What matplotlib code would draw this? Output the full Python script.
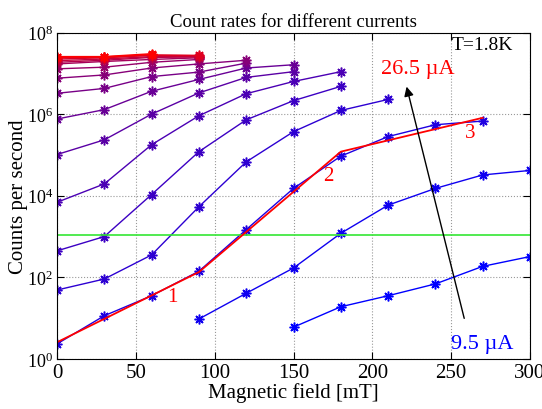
import numpy as np
import matplotlib.pyplot as plt

plt.rcParams['font.family'] = 'Liberation Serif'
plt.rcParams['mathtext.fontset'] = 'stix'

# bias currents in uA, from lowest (blue) to highest (red)
currents = [9.5, 10.5, 11.5, 12.5, 13.5, 14.5, 15.5, 16.5, 17.5,
            18.5, 19.5, 20.5, 21.5, 22.5, 23.5, 24.5, 25.5, 26.5]

# field where each sweep starts (mT), points every 30 mT
start_field = [150, 90, 0, 0, 0, 0, 0, 0, 0,
               0, 0, 0, 0, 0, 0, 0, 0, 0]
step = 30

# log10 of count rate for each current
c09_5 = [0.78, 1.28, 1.55, 1.84, 2.27, 2.51]
c10_5 = [0.98, 1.61, 2.23, 3.08, 3.77, 4.18, 4.51, 4.62]
c11_5 = [0.37, 1.06, 1.55, 2.15, 3.17, 4.18, 4.97, 5.45, 5.74, 5.83]
c12_5 = [1.69, 1.96, 2.55, 3.73, 4.83, 5.57, 6.09, 6.36]
c13_5 = [2.65, 3.00, 4.03, 5.08, 5.86, 6.33, 6.68]
c14_5 = [3.84, 4.29, 5.25, 5.96, 6.50, 6.80, 7.04]
c15_5 = [5.01, 5.37, 6.00, 6.52, 6.90, 7.04]
c16_5 = [5.88, 6.11, 6.56, 6.85, 7.13, 7.21]
c17_5 = [6.51, 6.63, 6.92, 7.03, 7.25]
c18_5 = [6.88, 6.96, 7.13, 7.23, 7.32]
c19_5 = [7.11, 7.15, 7.27, 7.34]
c20_5 = [7.23, 7.29, 7.34, 7.38]
c21_5 = [7.27, 7.32, 7.39, 7.40]
c22_5 = [7.31, 7.35, 7.41, 7.41]
c23_5 = [7.35, 7.38, 7.44, 7.43]
c24_5 = [7.38, 7.39, 7.45, 7.44]
c25_5 = [7.39, 7.40, 7.46]
c26_5 = [7.41, 7.41, 7.48]

all_series = [c09_5, c10_5, c11_5, c12_5, c13_5, c14_5, c15_5, c16_5, c17_5,
              c18_5, c19_5, c20_5, c21_5, c22_5, c23_5, c24_5, c25_5, c26_5]

# piecewise fit (red) through the 11.5 uA curve
fit_field = [0, 90, 180, 270]
fit_log = [0.41, 2.13, 5.08, 5.91]
fit_labels = ['1', '2', '3']
fit_label_pos = [(72.9, 1.54), (171.8, 4.49), (261.9, 5.56)]

threshold = 1100  # green line

fig = plt.figure(figsize=(5.42, 4.1), dpi=100)
ax = fig.add_axes([57/542, 50/410, 473/542, 326.5/410])

n = len(currents)
for i, vals in enumerate(all_series):
    t = i / (n - 1)
    col = (t, 0, 1 - t)
    x = start_field[i] + step * np.arange(len(vals))
    ax.plot(x, 10 ** np.array(vals), color=col, lw=1,
            marker=(8, 2, 0), markersize=7, markeredgewidth=1.1)

ax.axhline(threshold, color=(0.2, 0.9, 0.2), lw=1.2)
ax.plot(fit_field, 10 ** np.array(fit_log), color='red', lw=1.3)
for lab, (fx, fy) in zip(fit_labels, fit_label_pos):
    ax.text(fx, 10 ** fy, lab, color='red', fontsize=15, ha='center', va='center')

ax.annotate('', xy=(221.3, 10 ** 6.74), xytext=(258.7, 10 ** 0.93),
            arrowprops=dict(arrowstyle='-|>', color='k', lw=1, mutation_scale=14))
ax.text(228.9, 10 ** 7.11, '26.5 µA', color='red', fontsize=16, ha='center', va='center')
ax.text(269.5, 10 ** 0.37, '9.5 µA', color='blue', fontsize=16, ha='center', va='center')
ax.text(250.5, 10 ** 7.70, 'T=1.8K', color='k', fontsize=14, ha='left', va='center')

ax.set_yscale('log')
ax.set_xlim(0, 300)
ax.set_ylim(1, 1e8)
ax.set_xticks(np.arange(0, 301, 50))
ax.set_yticks([1e0, 1e2, 1e4, 1e6, 1e8])
ax.minorticks_off()
ax.tick_params(direction='in', top=True, right=True, length=5, pad=3)
ax.tick_params(axis='x', labelsize=15)
ax.tick_params(axis='y', labelsize=13)
ax.grid(True, linestyle=':', color='0.6', lw=0.8)

ax.set_xlabel('Magnetic field [mT]', fontsize=15, labelpad=0)
ax.set_ylabel('Counts per second', fontsize=15, labelpad=-1)
ax.set_title('Count rates for different currents', fontsize=13.5, pad=5)

plt.savefig('out.png', dpi=100)
